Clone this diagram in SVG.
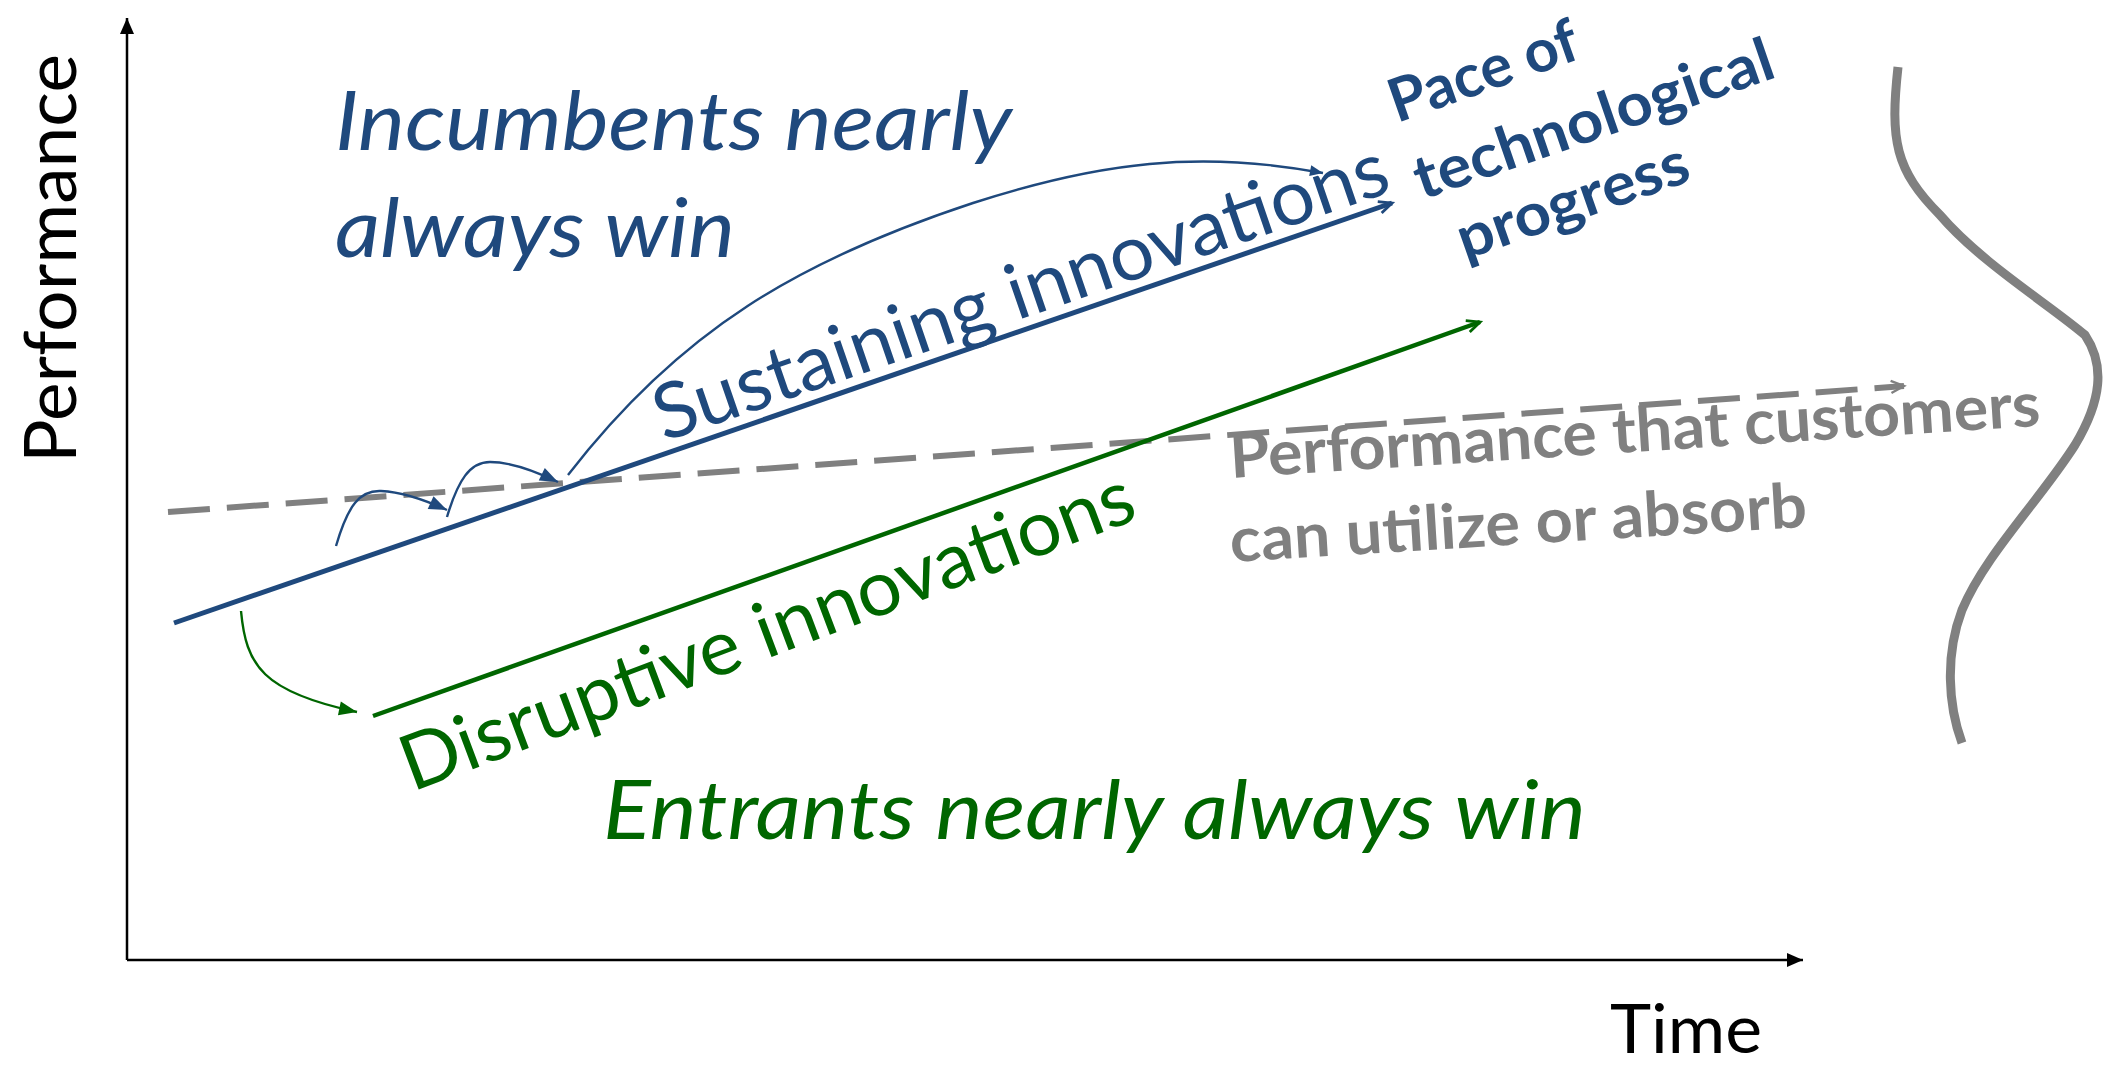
<svg xmlns="http://www.w3.org/2000/svg" width="2105" height="1068" viewBox="0 0 2105 1068">
  <defs>
    <style>
      text { font-family: Lato, "Open Sans", "Liberation Sans", sans-serif; }
      .blue { fill: #1F497D; }
      .green { fill: #006600; }
      .gray { fill: #808080; }
      .black { fill: #000000; }
      .it { font-style: italic; }
      .bd { font-weight: bold; }
      .axis { stroke: #000; stroke-width: 2.5; fill: none; }
      .thinBlue { stroke: #1F497D; stroke-width: 2.4; fill: none; }
      .thinGreen { stroke: #006600; stroke-width: 2.4; fill: none; }
    </style>
    <marker id="axArrow" markerUnits="userSpaceOnUse" orient="auto" viewBox="-20 -15 30 30" markerWidth="30" markerHeight="30" refX="0" refY="0">
      <path d="M-16,-7 L0,0 L-16,7 Z" fill="#000"/>
    </marker>
    <marker id="openBlue" markerUnits="userSpaceOnUse" orient="auto" viewBox="-20 -15 30 30" markerWidth="30" markerHeight="30" refX="0" refY="0">
      <path d="M-13,-6 L0,0 L-13,6" fill="none" stroke="#1F497D" stroke-width="2.8"/>
    </marker>
    <marker id="openGreen" markerUnits="userSpaceOnUse" orient="auto" viewBox="-20 -15 30 30" markerWidth="30" markerHeight="30" refX="0" refY="0">
      <path d="M-13,-6 L0,0 L-13,6" fill="none" stroke="#006600" stroke-width="2.8"/>
    </marker>
    <marker id="openGray" markerUnits="userSpaceOnUse" orient="auto" viewBox="-20 -15 30 30" markerWidth="30" markerHeight="30" refX="0" refY="0">
      <path d="M-13,-6 L0,0 L-13,6" fill="none" stroke="#808080" stroke-width="2.4" stroke-dasharray="none"/>
    </marker>
    <marker id="triBlue" markerUnits="userSpaceOnUse" orient="auto" viewBox="-25 -15 30 30" markerWidth="30" markerHeight="30" refX="0" refY="0">
      <path d="M-18,-7 L0,0 L-18,7 Z" fill="#1F497D"/>
    </marker>
    <marker id="triBlueSm" markerUnits="userSpaceOnUse" orient="auto" viewBox="-20 -15 30 30" markerWidth="30" markerHeight="30" refX="0" refY="0">
      <path d="M-13,-5.5 L0,0 L-13,5.5 Z" fill="#1F497D"/>
    </marker>
    <marker id="triGreen" markerUnits="userSpaceOnUse" orient="auto" viewBox="-25 -15 30 30" markerWidth="30" markerHeight="30" refX="0" refY="0">
      <path d="M-18,-7 L0,0 L-18,7 Z" fill="#006600"/>
    </marker>
  </defs>
  <rect width="2105" height="1068" fill="#ffffff"/>

  <g id="axes">
    <line class="axis" x1="127" y1="960" x2="127" y2="18" marker-end="url(#axArrow)"/>
    <line class="axis" x1="127" y1="960" x2="1803" y2="960" marker-end="url(#axArrow)"/>
  </g>

  <g id="axis-labels">
    <g id="label-performance">
      <text class="black" font-size="71" transform="translate(76,463) rotate(-90)" textLength="409" lengthAdjust="spacingAndGlyphs">Performance</text>
    </g>
    <g id="label-time">
      <text class="black" font-size="68" x="1610" y="1053" textLength="152" lengthAdjust="spacingAndGlyphs">Time</text>
    </g>
  </g>

  <g id="demand-curve">
    <path d="M1898,67 C1890,140 1895,170 1940,215 C1980,262 2050,305 2085,335 C2105,365 2102,400 2075,445 C2040,500 1985,555 1962,610 C1945,655 1948,705 1962,743" fill="none" stroke="#808080" stroke-width="9"/>
  </g>

  <g id="connectors">
    <line id="customer-line" x1="168" y1="512" x2="1904" y2="386" stroke="#808080" stroke-width="6" stroke-dasharray="42 17" marker-end="url(#openGray)"/>
    <line id="sustaining-line" x1="174" y1="623" x2="1392" y2="203" stroke="#1F497D" stroke-width="5" marker-end="url(#openBlue)"/>
    <line id="disruptive-line" x1="373" y1="716" x2="1480" y2="322" stroke="#006600" stroke-width="4.5" marker-end="url(#openGreen)"/>
    <path id="hop1" class="thinBlue" d="M336,546 C348,505 360,490 381,491 C403,492 425,500 447,510" marker-end="url(#triBlue)"/>
    <path id="hop2" class="thinBlue" d="M447,517 C458,480 470,462 490,462 C512,462 535,471 558,482" marker-end="url(#triBlue)"/>
    <path id="hop-big" class="thinBlue" d="M568,475 C680,330 800,260 973,203 C1100,162 1200,150 1323,173" marker-end="url(#triBlueSm)"/>
    <path id="drop-green" class="thinGreen" d="M241,611 C246,665 262,692 357,712" marker-end="url(#triGreen)"/>
  </g>

  <g id="incumbents">
    <text class="blue it" font-size="82" x="335" y="150" textLength="677" lengthAdjust="spacingAndGlyphs">Incumbents nearly</text>
    <text class="blue it" font-size="82" x="335" y="257" textLength="400" lengthAdjust="spacingAndGlyphs">always win</text>
  </g>

  <g id="entrants">
    <text class="green it" font-size="82" x="603" y="839" textLength="983" lengthAdjust="spacingAndGlyphs">Entrants nearly always win</text>
  </g>

  <g id="sustaining">
    <text class="blue" font-size="77" transform="translate(664,442) rotate(-19.0)" textLength="772" lengthAdjust="spacingAndGlyphs">Sustaining innovations</text>
  </g>

  <g id="disruptive">
    <text class="green" font-size="77" transform="translate(412,792) rotate(-20.6)" textLength="778" lengthAdjust="spacingAndGlyphs">Disruptive innovations</text>
  </g>

  <g id="pace">
    <text class="blue bd" font-size="60" transform="translate(1397,123) rotate(-19.3)" textLength="197" lengthAdjust="spacingAndGlyphs">Pace of</text>
    <text class="blue bd" font-size="60" transform="translate(1422,200) rotate(-19.1)" textLength="377" lengthAdjust="spacingAndGlyphs">technological</text>
    <text class="blue bd" font-size="60" transform="translate(1465,260) rotate(-19.3)" textLength="242" lengthAdjust="spacingAndGlyphs">progress</text>
  </g>

  <g id="customers">
    <text class="gray bd" font-size="62" transform="translate(1231,478) rotate(-3.7)" textLength="812" lengthAdjust="spacingAndGlyphs">Performance that customers</text>
    <text class="gray bd" font-size="62" transform="translate(1231,562) rotate(-3.5)" textLength="578" lengthAdjust="spacingAndGlyphs">can utilize or absorb</text>
  </g>
</svg>
